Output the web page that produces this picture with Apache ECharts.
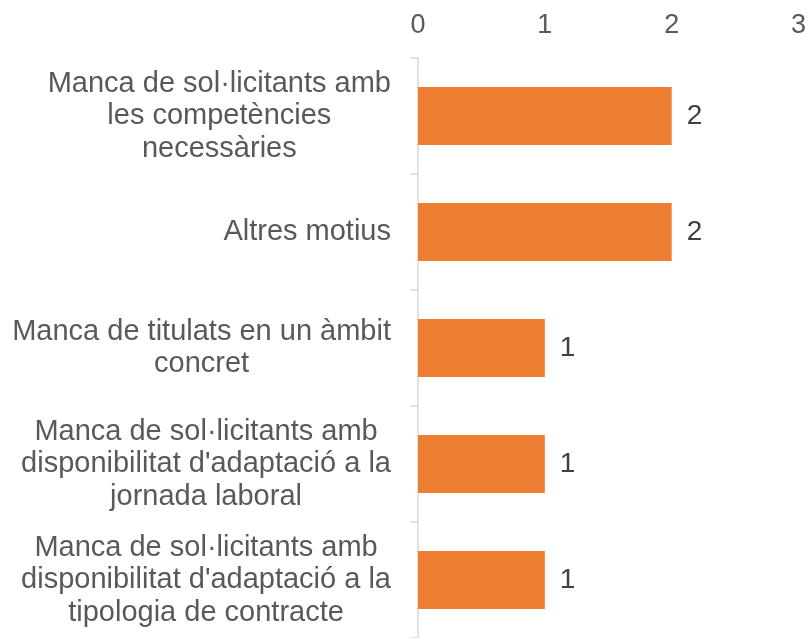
<!DOCTYPE html>
<html>
<head>
<meta charset="utf-8">
<script src="https://cdn.jsdelivr.net/npm/echarts@6/dist/echarts.min.js"></script>
<style>
html,body{margin:0;padding:0;background:#fff;}
#c{width:809px;height:638px;}
</style>
</head>
<body>
<div id="c"></div>
<script>
const categories = [
  "Manca de sol·licitants amb\nles competències\nnecessàries",
  "Altres motius",
  "Manca de titulats en un àmbit\nconcret",
  "Manca de sol·licitants amb\ndisponibilitat d'adaptació a la\njornada laboral",
  "Manca de sol·licitants amb\ndisponibilitat d'adaptació a la\ntipologia de contracte"
];
const values = [2, 2, 1, 1, 1];
const xMin = 0, xMax = 3, xStep = 1;

const FONT = 'Liberation Sans, Arial, sans-serif';
const chart = echarts.init(document.getElementById('c'));
chart.setOption({
  animation: false,
  backgroundColor: '#ffffff',
  grid: { left: 418, top: 58, width: 382, height: 583, containLabel: false },
  xAxis: {
    type: 'value', position: 'top', min: xMin, max: xMax, interval: xStep,
    axisLine: { show: false }, axisTick: { show: false }, splitLine: { show: false },
    axisLabel: { color: '#595959', fontSize: 27, fontFamily: FONT, margin: 19 }
  },
  yAxis: {
    type: 'category', inverse: true, data: categories,
    axisLine: { show: true, lineStyle: { color: '#D9D9D9', width: 1.5 } },
    axisTick: { show: true, length: 8, lineStyle: { color: '#D9D9D9', width: 1.5 } },
    axisLabel: {
      interval: 0, align: 'right', margin: 27,
      color: '#595959', fontSize: 29, fontFamily: FONT,
      lineHeight: 32.5,
      formatter: function (v) { return v.split('\n').map(function (l) { return '{c|' + l + '}'; }).join('\n'); },
      rich: { c: { align: 'center', color: '#595959', fontSize: 29, fontFamily: FONT, lineHeight: 32.5 } }
    }
  },
  series: [{
    type: 'bar', data: values, barWidth: '50%',
    itemStyle: { color: '#ED7D31' },
    label: { show: true, position: 'right', distance: 15, color: '#404040', fontSize: 28, fontFamily: FONT }
  }]
});
</script>
</body>
</html>
